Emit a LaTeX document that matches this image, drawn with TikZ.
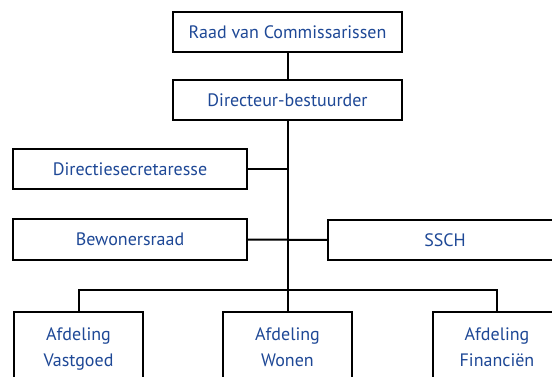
\documentclass[tikz,border=0pt]{standalone}
\usepackage{fontspec}
\setmainfont{PT Sans}
\definecolor{orgblue}{RGB}{30,72,150}
\begin{document}
\begin{tikzpicture}[x=1pt, y=-1pt,
    line/.style={line width=2pt, color=black},
    box/.style={draw=black, line width=2pt, fill=white, minimum height=40pt, inner sep=0pt, align=center, text=orgblue, font=\fontsize{18}{26}\selectfont},
    topbox/.style={box, minimum width=229pt},
    sidebox/.style={box, minimum width=234pt},
    afdbox/.style={box, minimum width=129pt, minimum height=82pt, text depth=12pt}
]
\clip (0,0) rectangle (552,377);
\node[topbox] (raad) at (287.5,32) {Raad van Commissarissen};
\node[topbox] (dir) at (287.5,100) {Directeur-bestuurder};
\node[sidebox] (secr) at (130,169.5) {Directiesecretaresse};
\node[sidebox] (bew) at (130,239.5) {Bewonersraad};
\node[sidebox] (ssch) at (445,240) {SSCH};
\node[afdbox] (vast) at (78.5,353) {Afdeling\\Vastgoed};
\node[afdbox] (won) at (287.5,353) {Afdeling\\Wonen};
\node[afdbox] (fin) at (497,353) {Afdeling\\Financiën};
\coordinate (bus) at (287.5,290);

\draw[line] (raad) -- (dir);
\draw[line] (dir) -- (won);
\draw[line] (secr.east) -- (secr.east -| dir.south);
\draw[line] (bew) -- (ssch);
\draw[line] (vast.north) |- (bus) -| (fin.north);
\end{tikzpicture}
\end{document}
